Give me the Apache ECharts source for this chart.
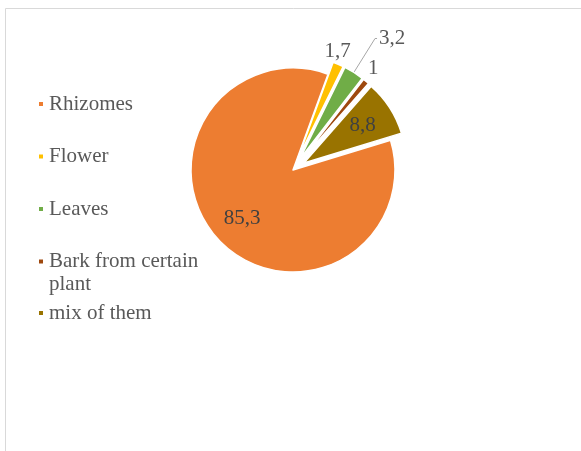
<!DOCTYPE html>
<html lang="en">
<head>
  <meta charset="UTF-8">
  <script src="https://cdn.jsdelivr.net/npm/echarts@6.0.0/dist/echarts.min.js"></script>
  <style>
    html, body { margin: 0; padding: 0; background: #fff; }
  </style>
</head>
<body>
  <div id="partsChart" style="width: 581px;height:451px;"></div>

  <script type="text/javascript">

    var parts = ['Rhizomes', 'Flower', 'Leaves', 'Bark from certain plant', 'mix of them'];
    var shares = [85.3, 1.7, 3.2, 1, 8.8];
    var colors = ['#ED7D31', '#FFC000', '#70AD47', '#9E480E', '#997300'];

    var serif = "'Liberation Serif', 'Times New Roman', serif";
    var pieCenter = [293, 170];
    var startAngle = 17;

    function fmt(p) {
        return String(p.value).replace('.', ',');
    }

    // outside labels of the small slices (only Leaves has a leader line)
    var outsideLabel = {
        'Flower': { len: 14, len2: 0, line: false, dx: -6 },
        'Leaves': { len: 40, len2: 2, line: true, dx: 0 },
        'Bark from certain plant': { len: 16, len2: 0, line: false, dx: -3 }
    };

    var mainData = parts.map(function (name, i) {
        var o = outsideLabel[name];
        return {
            name: name,
            value: shares[i],
            selected: i > 0,
            itemStyle: { color: colors[i] },
            label: { show: !!o, distanceToLabelLine: o && o.line ? 2 : 0 },
            labelLine: {
                show: !!(o && o.line),
                length: o ? o.len : 10,
                length2: o ? o.len2 : 0
            }
        };
    });

    // transparent ring used only to place the big inside labels
    var innerLabelData = parts.map(function (name, i) {
        var show = name === 'Rhizomes' || name === 'mix of them';
        return { name: name, value: shares[i], selected: i > 0, label: { show: show } };
    });

    var legendFont = { fontFamily: serif, fontSize: 21, color: '#595959' };

    // Excel keeps a fixed slot per entry, the wrapped line just hangs below,
    // so the last entry gets its own legend block
    function legendBlock(names, top) {
        return {
            orient: 'vertical',
            left: 37,
            top: top,
            padding: 0,
            icon: 'rect',
            itemWidth: 6,
            itemHeight: 6,
            itemGap: 28.5,
            selectedMode: false,
            data: names,
            formatter: function (name) {
                if (name === 'Bark from certain plant') {
                    return '{a|Bark from certain}\n{b|plant}';
                }
                return name;
            },
            textStyle: Object.assign({
                lineHeight: 24,
                rich: {
                    a: Object.assign({ lineHeight: 24 }, legendFont),
                    b: Object.assign({ lineHeight: 0, verticalAlign: 'top' }, legendFont)
                }
            }, legendFont)
        };
    }

    function createPartsChart() {
        const chart = echarts.init(document.getElementById('partsChart'));

        let option = {
            animation: false,
            color: colors,
            graphic: [{
                type: 'rect',
                silent: true,
                shape: { x: 5.5, y: 8.5, width: 700, height: 600 },
                style: { fill: 'none', stroke: '#d9d9d9', lineWidth: 1 }
            }],
            legend: [
                legendBlock(parts.slice(0, 4), 92),
                legendBlock(parts.slice(4), 301)
            ],
            series: [
                {
                    name: 'Parts',
                    type: 'pie',
                    center: pieCenter,
                    radius: [0, 102],
                    startAngle: startAngle,
                    selectedMode: 'multiple',
                    selectedOffset: 13,
                    avoidLabelOverlap: false,
                    itemStyle: { borderColor: '#fff', borderWidth: 1.5 },
                    emphasis: { disabled: true },
                    label: {
                        position: 'outside',
                        formatter: fmt,
                        fontFamily: serif,
                        fontSize: 21,
                        color: '#595959'
                    },
                    labelLine: {
                        lineStyle: { color: '#a6a6a6', width: 1 }
                    },
                    labelLayout: function (params) {
                        // Excel centres the small labels over their slice
                        var o = outsideLabel[parts[params.dataIndex]];
                        if (!o || o.line) return {};
                        return { align: 'center', dx: o.dx };
                    },
                    data: mainData
                },
                {
                    type: 'pie',
                    silent: true,
                    center: pieCenter,
                    radius: [32, 102],
                    startAngle: startAngle,
                    selectedMode: 'multiple',
                    selectedOffset: 13,
                    avoidLabelOverlap: false,
                    itemStyle: { color: 'rgba(0,0,0,0)' },
                    label: {
                        position: 'inside',
                        formatter: fmt,
                        fontFamily: serif,
                        fontSize: 21,
                        color: '#404040'
                    },
                    labelLine: { show: false },
                    data: innerLabelData
                }
            ]
        };

        chart.setOption(option);
    }
    createPartsChart();
  </script>
</body>
</html>
